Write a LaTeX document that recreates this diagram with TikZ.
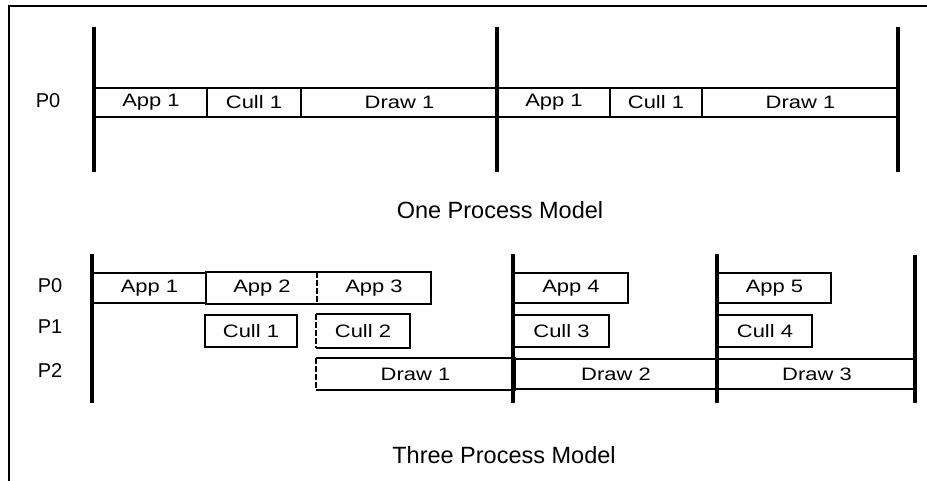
\documentclass[tikz,border=0pt]{standalone}
\usepackage{fontspec}
\setmainfont{Liberation Sans}
\newfontfamily\boxfont[FakeStretch=1.22]{Liberation Sans}
\begin{document}
\begin{tikzpicture}[x=1pt,y=-1pt,
  frameline/.style={line width=1.4pt},
  bar/.style={line width=4.2pt},
  seg/.style={draw,line width=2pt,anchor=north west,inner sep=0pt,
    font=\boxfont\fontsize{18}{20}\selectfont},
  edge/.style={line width=2pt},
  brokenedge/.style={line width=2pt,dash pattern=on 6pt off 2pt},
  plabel/.style={font=\fontsize{20}{22}\selectfont},
  title/.style={font=\fontsize{23.5}{26}\selectfont}]
\useasboundingbox (0,0) rectangle (927,481);
% frame
\coordinate (fTL) at (9,6);
\coordinate (fTR) at (927,6);
\coordinate (fBL) at (9,481);
\draw[frameline] (fTR) -- (fTL) -- (fBL);

% ---------- One process model ----------
\node[plabel] (p0a) at (48,101) {P0};
\node[seg,minimum width=112pt,minimum height=29pt] (oa1) at (94,87) {App 1};
\node[seg,minimum width=94pt,minimum height=29pt] (oc1) at (206,87) {Cull 1};
\node[seg,minimum width=197pt,minimum height=29pt] (od1) at (300,87) {Draw 1};
\node[seg,minimum width=112pt,minimum height=29pt] (oa2) at (497,87) {App 1};
\node[seg,minimum width=92pt,minimum height=29pt] (oc2) at (609,87) {Cull 1};
\node[seg,minimum width=197pt,minimum height=29pt] (od2) at (701,87) {Draw 1};
\coordinate (ot1) at (94,27);  \coordinate (ob1) at (94,172);
\coordinate (ot2) at (497,27); \coordinate (ob2) at (497,172);
\coordinate (ot3) at (898,27); \coordinate (ob3) at (898,172);
\draw[bar] (ot1) -- (ob1);
\draw[bar] (ot2) -- (ob2);
\draw[bar] (ot3) -- (ob3);
\node[title] (t1) at (500,210) {One Process Model};

% ---------- Three process model ----------
\node[plabel] (p0b) at (50,286) {P0};
\node[plabel] (p1b) at (50,327) {P1};
\node[plabel] (p2b) at (50,371) {P2};
% P0 row
\node[seg,minimum width=113pt,minimum height=30pt] (ta1) at (92,272) {App 1};
\node[seg,minimum width=112pt,minimum height=30pt,draw=none] (ta2) at (205,272) {App 2};
\draw[edge] (ta2.north west) -- (ta2.north east);
\draw[edge] (ta2.south west) -- (ta2.south east);
\node[seg,minimum width=112pt,minimum height=30pt,draw=none] (ta3) at (317,272) {App 3};
\draw[edge] (ta3.north west) -- (ta3.north east) -- (ta3.south east) -- (ta3.south west);
\draw[brokenedge] (ta3.north west) -- (ta3.south west);
\node[seg,minimum width=114pt,minimum height=30pt] (ta4) at (513,272) {App 4};
\node[seg,minimum width=113pt,minimum height=30pt] (ta5) at (717,272) {App 5};
% P1 row
\node[seg,minimum width=92pt,minimum height=32pt] (tc1) at (204,314) {Cull 1};
\node[seg,minimum width=92pt,minimum height=32pt,draw=none] (tc2) at (316,314) {Cull 2};
\draw[edge] (tc2.north west) -- (tc2.north east) -- (tc2.south east) -- (tc2.south west);
\draw[brokenedge] (tc2.north west) -- (tc2.south west);
\node[seg,minimum width=95pt,minimum height=32pt] (tc3) at (513,314) {Cull 3};
\node[seg,minimum width=94pt,minimum height=32pt] (tc4) at (717,314) {Cull 4};
% P2 row
\node[seg,minimum width=197pt,minimum height=30pt,draw=none] (td1) at (316,358) {Draw 1};
\draw[edge] (td1.north west) -- (td1.north east) -- (td1.south east) -- (td1.south west);
\draw[brokenedge] (td1.north west) -- (td1.south west);
\node[seg,minimum width=204pt,minimum height=30pt] (td2) at (513,358) {Draw 2};
\node[seg,minimum width=198pt,minimum height=30pt] (td3) at (717,358) {Draw 3};
% bars
\coordinate (tt1) at (92,254);  \coordinate (tb1) at (92,403);
\coordinate (tt2) at (513,254); \coordinate (tb2) at (513,403);
\coordinate (tt3) at (717,254); \coordinate (tb3) at (717,403);
\coordinate (tt4) at (915,255); \coordinate (tb4) at (915,403);
\draw[bar] (tt1) -- (tb1);
\draw[bar] (tt2) -- (tb2);
\draw[bar] (tt3) -- (tb3);
\draw[bar] (tt4) -- (tb4);
\node[title] (t2) at (504,455) {Three Process Model};
\end{tikzpicture}
\end{document}
